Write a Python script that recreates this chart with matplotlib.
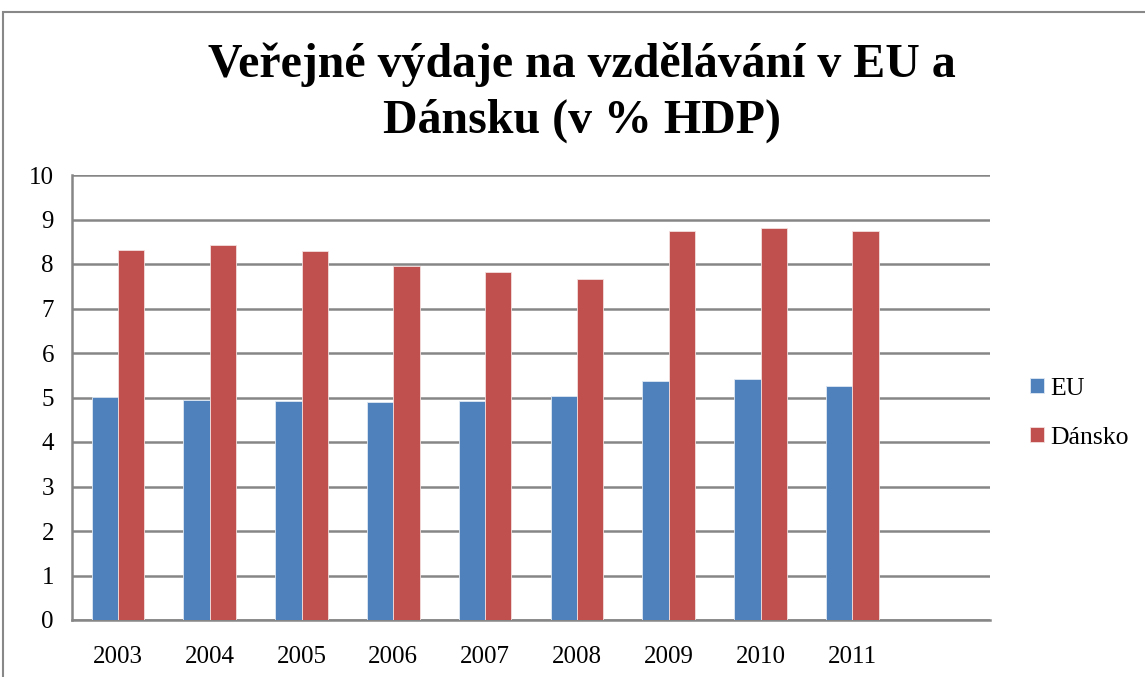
import numpy as np
import matplotlib.pyplot as plt
from matplotlib.patches import Rectangle

plt.rcParams['font.family'] = ['Liberation Serif', 'DejaVu Serif']

# ------------------------------------------------------------------------------
# Data (v % HDP)
# ------------------------------------------------------------------------------
roky = ['2003', '2004', '2005', '2006', '2007', '2008', '2009', '2010', '2011', '']
eu = [5.02, 4.95, 4.93, 4.90, 4.93, 5.03, 5.38, 5.42, 5.25, np.nan]
dansko = [8.32, 8.43, 8.30, 7.96, 7.81, 7.67, 8.74, 8.80, 8.75, np.nan]

c_eu = '#4F81BD'
c_dk = '#C0504D'
c_grid = '#868686'

fig = plt.figure(figsize=(11.45, 6.77), dpi=100)
# outer chart border
fig.patches.append(Rectangle((3 / 1145, -0.01), 1.0, 1 - 12 / 677 + 0.01,
                             transform=fig.transFigure, fill=False,
                             edgecolor='#888888', linewidth=1.5))

ax = fig.add_axes([72 / 1145, 1 - 620 / 677, (990 - 72) / 1145, (620 - 175) / 677])

x = np.arange(len(roky))
w = 1 / 3.5
ax.bar(x - w / 2, eu, w, color=c_eu, edgecolor='#dfe8f3', linewidth=0.6, label='EU', zorder=3)
ax.bar(x + w / 2, dansko, w, color=c_dk, edgecolor='#f3dede', linewidth=0.6, label='Dánsko', zorder=3)

ax.set_xlim(-0.5, len(roky) - 0.5)
ax.set_ylim(0, 10)
ax.set_yticks(range(0, 11))
ax.set_xticks(x)
ax.set_xticklabels(roky)
ax.yaxis.grid(True, color=c_grid, linewidth=1.8, zorder=0)
ax.set_axisbelow(True)

for s in ['top', 'right']:
    ax.spines[s].set_visible(False)
for s in ['left', 'bottom']:
    ax.spines[s].set_color(c_grid)
    ax.spines[s].set_linewidth(1.8)

ax.tick_params(axis='both', length=0, labelsize=18)
ax.tick_params(axis='y', pad=13)
ax.tick_params(axis='x', pad=19)

fig.text(0.508, 1 - 42 / 677, 'Veřejné výdaje na vzdělávání v EU a\nDánsku (v % HDP)',
         fontsize=34.5, fontweight='bold', ha='center', va='top', linespacing=1.35)

ax.legend(loc='center left', bbox_to_anchor=(1.018, 0.465), frameon=False,
          fontsize=18.5, handlelength=0.55, handleheight=0.55, handletextpad=0.25,
          labelspacing=1.05)

fig.savefig('out.png', dpi=100)
